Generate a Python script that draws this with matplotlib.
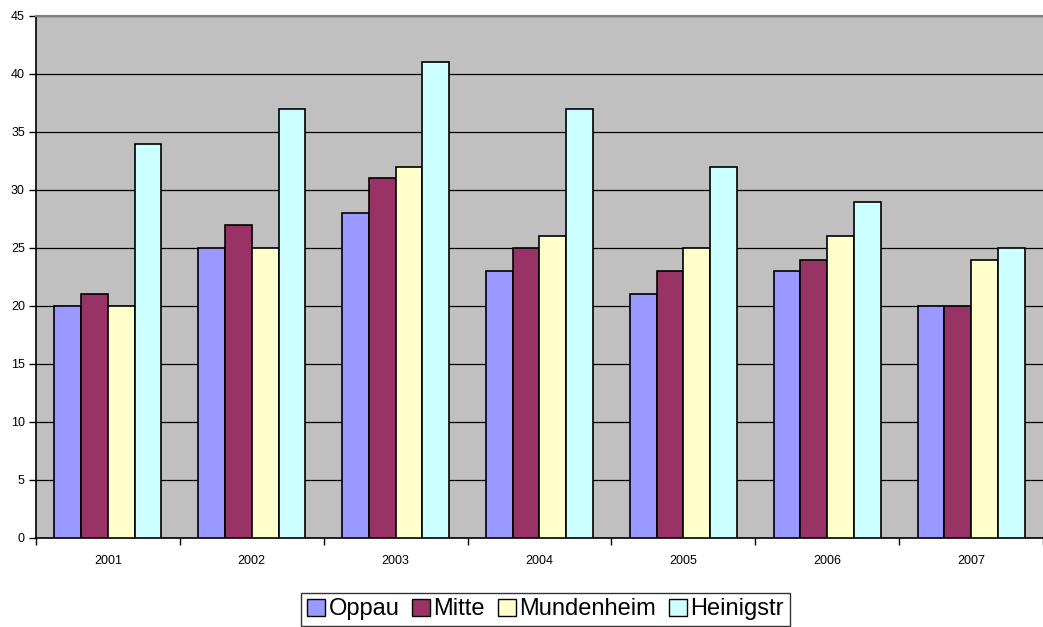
import numpy as np
import matplotlib.pyplot as plt
from matplotlib.patches import Patch

plt.rcParams['font.family'] = ['Liberation Sans', 'DejaVu Sans']

years = ['2001', '2002', '2003', '2004', '2005', '2006', '2007']
oppau = [20, 25, 28, 23, 21, 23, 20]
mitte = [21, 27, 31, 25, 23, 24, 20]
mundenheim = [20, 25, 32, 26, 25, 26, 24]
heinigstr = [34, 37, 41, 37, 32, 29, 25]

series = [('Oppau', oppau, '#9999FF'),
          ('Mitte', mitte, '#993366'),
          ('Mundenheim', mundenheim, '#FFFFCC'),
          ('Heinigstr', heinigstr, '#CCFFFF')]

fig = plt.figure(figsize=(10.43, 6.27), dpi=100)
ax = fig.add_axes([0.0345, 0.142, 0.9655, 0.8325])
ax.set_facecolor('#C0C0C0')

x = np.arange(len(years))
w = 0.186
for i, (name, vals, col) in enumerate(series):
    ax.bar(x + (i - 1.5) * w, vals, w, color=col, edgecolor='black',
           linewidth=1.2, zorder=3)

ax.set_xlim(-0.5, len(years) - 0.5)
ax.set_ylim(0, 45)
ax.set_yticks(range(0, 46, 5))
ax.yaxis.grid(True, color='black', linewidth=0.9, zorder=1)
ax.set_xticks(x)
ax.set_xticklabels(years)
ax.set_xticks(np.arange(-0.5, len(years), 1), minor=True)
ax.tick_params(axis='x', which='major', length=0, pad=12, labelsize=9)
ax.tick_params(axis='x', which='minor', length=5, width=1)
ax.tick_params(axis='y', length=5, width=1, labelsize=9, pad=3)

ax.spines['top'].set_color('#808080')
ax.spines['top'].set_linewidth(1.5)
ax.spines['right'].set_visible(False)
ax.spines['left'].set_linewidth(1.2)
ax.spines['bottom'].set_linewidth(1.2)

handles = [Patch(facecolor=c, edgecolor='black', label=n) for n, _, c in series]
leg = fig.legend(handles=handles, loc='upper center', bbox_to_anchor=(0.523, 0.055),
                 ncol=4, fontsize=17, frameon=True, fancybox=False,
                 handlelength=0.75, handleheight=0.75, handletextpad=0.15,
                 columnspacing=0.55, borderpad=0.25, borderaxespad=0)
leg.get_frame().set_edgecolor('black')
leg.get_frame().set_linewidth(1)

fig.savefig('out.png', dpi=100)
